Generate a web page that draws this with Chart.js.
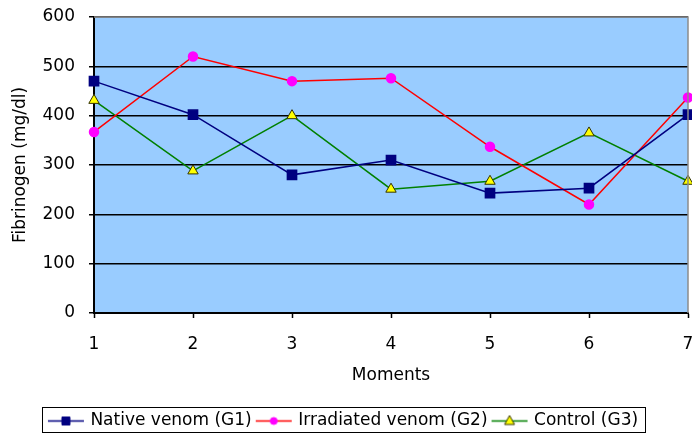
<!DOCTYPE html>
<html lang="en">
<head>
    <meta charset="UTF-8">
    <title>Fibrinogen by moment</title>
    <script src="https://cdn.jsdelivr.net/npm/chart.js"></script>
    <style>
        body {
            margin: 0;
            background: #ffffff;
        }
        #chartBox {
            width: 692px;
            height: 434px;
        }
    </style>
</head>
<body>
<div id="chartBox">
    <canvas id="fibChart" width="692" height="434"></canvas>
</div>

<script>
    // values
    const moments = ['1', '2', '3', '4', '5', '6', '7'];
    const nativeVenom = [470, 402, 280, 310, 243, 253, 402];
    const irradiatedVenom = [367, 520, 470, 476, 337, 220, 437];
    const controlGroup = [431, 288, 400, 251, 267, 365, 267];
    const seriesNames = ['Native venom (G1)', 'Irradiated venom (G2)', 'Control (G3)'];
    const yTicks = [0, 100, 200, 300, 400, 500, 600];

    const FONT = 'DejaVu Sans';

    // small legend swatch: a line with the marker in the middle
    function swatch(lineColor, markerFill, markerEdge, shape) {
        const c = document.createElement('canvas');
        c.width = 38;
        c.height = 14;
        const g = c.getContext('2d');
        g.strokeStyle = lineColor;
        g.lineWidth = 1.5;
        g.beginPath();
        g.moveTo(1, 7.5);
        g.lineTo(37, 7.5);
        g.stroke();
        g.fillStyle = markerFill;
        g.strokeStyle = markerEdge;
        g.lineWidth = 1;
        g.beginPath();
        if (shape === 'rect') {
            g.rect(15, 3.5, 8, 8);
        } else if (shape === 'circle') {
            g.arc(19, 7.5, 3.5, 0, Math.PI * 2);
        } else {
            g.moveTo(19, 2);
            g.lineTo(24, 11);
            g.lineTo(14, 11);
            g.closePath();
        }
        g.fill();
        g.stroke();
        return c;
    }

    const swatches = [
        swatch('#000080', '#000080', '#000080', 'rect'),
        swatch('#ff0000', '#ff00ff', '#ff00ff', 'circle'),
        swatch('#008000', '#ffff00', '#333300', 'triangle')
    ];

    const plotBackground = {
        id: 'plotBackground',
        beforeDraw(chart) {
            const a = chart.chartArea;
            const ctx = chart.ctx;
            ctx.save();
            ctx.fillStyle = '#99ccff';
            ctx.fillRect(a.left, a.top, a.right - a.left, a.bottom - a.top);
            ctx.restore();
        },
        afterDraw(chart) {
            const a = chart.chartArea;
            const ctx = chart.ctx;
            ctx.save();
            // grey frame on top and right
            ctx.strokeStyle = '#8c8c8c';
            ctx.lineWidth = 1.5;
            ctx.beginPath();
            ctx.moveTo(a.left, a.top);
            ctx.lineTo(a.right, a.top);
            ctx.lineTo(a.right, a.bottom);
            ctx.stroke();
            // box round the legend
            const boxes = chart.legend.legendHitBoxes;
            if (boxes && boxes.length) {
                let l = Infinity, r = -Infinity, t = Infinity, b = -Infinity;
                boxes.forEach(h => {
                    l = Math.min(l, h.left);
                    r = Math.max(r, h.left + h.width);
                    t = Math.min(t, h.top);
                    b = Math.max(b, h.top + h.height);
                });
                ctx.strokeStyle = '#000000';
                ctx.lineWidth = 1;
                ctx.strokeRect(Math.round(l - 8) + 0.5, Math.round(t - 5) + 0.5,
                    Math.round(r - l + 15), Math.round(b - t + 8));
            }
            ctx.restore();
        }
    };

    new Chart(document.getElementById('fibChart'), {
        type: 'line',
        data: {
            labels: moments,
            datasets: [{
                label: seriesNames[0],
                data: nativeVenom,
                borderColor: '#000080',
                backgroundColor: '#000080',
                borderWidth: 1.5,
                pointStyle: 'rect',
                pointRadius: 6.5,
                pointBorderColor: '#000080',
                pointBackgroundColor: '#000080',
                clip: false
            }, {
                label: seriesNames[1],
                data: irradiatedVenom,
                borderColor: '#ff0000',
                backgroundColor: '#ff00ff',
                borderWidth: 1.5,
                pointStyle: 'circle',
                pointRadius: 4.5,
                pointBorderColor: '#ff00ff',
                pointBackgroundColor: '#ff00ff',
                clip: false
            }, {
                label: seriesNames[2],
                data: controlGroup,
                borderColor: '#008000',
                backgroundColor: '#ffff00',
                borderWidth: 1.5,
                pointStyle: 'triangle',
                pointRadius: 6,
                pointBorderWidth: 1,
                pointBorderColor: '#333300',
                pointBackgroundColor: '#ffff00',
                clip: false
            }]
        },
        options: {
            responsive: false,
            animation: false,
            layout: {
                autoPadding: false,
                padding: { top: 17, right: 4, left: 0, bottom: -5 }
            },
            scales: {
                x: {
                    offset: false,
                    afterFit(scale) {
                        scale.height = 93;
                        scale.paddingLeft = 0;
                        scale.paddingRight = 0;
                    },
                    grid: {
                        drawOnChartArea: false,
                        drawTicks: true,
                        tickLength: 5,
                        tickColor: '#000000',
                        tickWidth: 1.5
                    },
                    border: { color: '#000000', width: 2 },
                    ticks: {
                        color: '#000000',
                        padding: 16,
                        maxRotation: 0,
                        font: { family: FONT, size: 17 }
                    },
                    title: {
                        display: true,
                        text: 'Moments',
                        color: '#000000',
                        font: { family: FONT, size: 17 },
                        padding: { top: 0, bottom: 20 }
                    }
                },
                y: {
                    min: 0,
                    max: 600,
                    afterFit(scale) {
                        scale.width = 94;
                        scale.paddingTop = 0;
                        scale.paddingBottom = 0;
                    },
                    afterBuildTicks(scale) {
                        scale.ticks = yTicks.map(v => ({ value: v }));
                    },
                    grid: {
                        color: '#000000',
                        lineWidth: 1.5,
                        tickLength: 5,
                        tickColor: '#000000'
                    },
                    border: { color: '#000000', width: 2 },
                    ticks: {
                        color: '#000000',
                        padding: 14,
                        font: { family: FONT, size: 17 }
                    },
                    title: {
                        display: true,
                        text: 'Fibrinogen (mg/dl)',
                        color: '#000000',
                        font: { family: FONT, size: 17 },
                        padding: { top: 10, bottom: 0 }
                    }
                }
            },
            plugins: {
                legend: {
                    position: 'bottom',
                    labels: {
                        color: '#000000',
                        font: { family: FONT, size: 17 },
                        usePointStyle: true,
                        pointStyleWidth: 32,
                        boxHeight: 16,
                        padding: 6,
                        generateLabels(chart) {
                            return chart.data.datasets.map((ds, i) => ({
                                text: ds.label,
                                pointStyle: swatches[i],
                                fillStyle: 'transparent',
                                strokeStyle: 'transparent',
                                lineWidth: 0,
                                fontColor: '#000000',
                                hidden: false,
                                datasetIndex: i
                            }));
                        }
                    }
                },
                tooltip: { enabled: false }
            }
        },
        plugins: [plotBackground]
    });
</script>
</body>
</html>
